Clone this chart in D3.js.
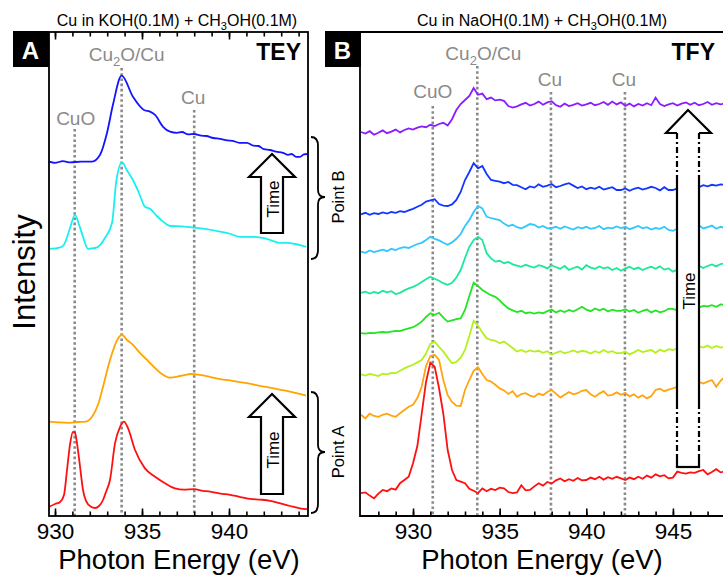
<!DOCTYPE html>
<html><head><meta charset="utf-8">
<script src="https://cdn.jsdelivr.net/npm/d3@7"></script>
<style>body{margin:0;background:#fff}svg{display:block;font-family:"Liberation Sans",Arial,sans-serif}</style>
</head><body><svg id="c" width="723" height="575"></svg>
<script>
// ---------- DATA ----------
// Panel A (TEY), [photon energy eV, intensity a.u.]
const teyBlue = [[929.66,88.6],[930.0,88.3],[930.45,88.7],[930.9,88.4],[931.5,88.6],[932.13,88.6],[932.59,90.3],[932.99,95.8],[933.33,102.8],[933.83,110.1],[934.48,104.8],[935.11,101.5],[935.46,101.1],[935.75,100.3],[936.21,97.3],[936.61,96.1],[937.0,95.8],[937.3,96.0],[937.65,95.4],[937.99,95.5],[938.4,95.1],[938.7,95.0],[939.1,94.5],[939.48,94.3],[939.9,93.9],[940.2,93.8],[940.6,93.3],[941.03,93.3],[941.4,92.6],[941.7,92.5],[942.0,91.7],[942.36,91.5],[942.7,91.1],[943.1,90.8],[943.4,90.3],[943.6,90.5],[943.85,89.8],[944.08,89.8],[944.3,90.4],[944.48,90.5]];
const teyCyan = [[929.66,66.8],[930.0,66.9],[930.4,67.3],[930.57,68.3],[930.85,71.8],[931.15,75.3],[931.4,72.6],[931.61,69.8],[931.9,66.8],[932.3,67.0],[932.6,67.8],[932.87,69.5],[933.28,73.3],[933.51,83.3],[933.85,88.4],[934.15,86.3],[934.48,84.0],[934.85,80.5],[935.17,77.3],[935.46,76.8],[935.85,75.0],[936.21,73.6],[936.61,72.5],[937.3,72.4],[937.99,72.1],[938.7,71.7],[939.48,71.1],[940.1,70.5],[940.63,69.8],[941.3,69.8],[942.07,69.4],[942.5,68.8],[942.93,68.3],[943.4,68.3],[943.79,68.0],[944.1,67.7],[944.43,67.3]];
const teyOrange = [[929.66,23.6],[930.2,23.4],[930.86,23.3],[931.3,23.5],[931.78,23.6],[932.13,24.8],[932.47,27.8],[932.76,32.3],[933.16,39.0],[933.62,44.4],[933.85,45.3],[934.14,44.0],[934.48,42.8],[934.89,40.7],[935.25,39.2],[935.63,37.5],[936.21,35.3],[936.61,34.6],[936.9,34.7],[937.18,35.0],[937.5,35.3],[937.76,35.5],[938.33,35.3],[938.9,34.8],[939.48,34.2],[940.2,33.8],[941.03,33.2],[941.7,32.6],[942.36,32.1],[942.9,31.6],[943.51,31.1],[944.0,30.6],[944.43,30.1]];
const teyRed = [[929.66,2.3],[930.0,3.0],[930.29,3.5],[930.52,5.3],[930.69,11.5],[930.86,17.8],[931.03,21.0],[931.15,20.8],[931.26,18.3],[931.44,12.3],[931.61,6.5],[931.78,3.8],[932.07,2.3],[932.3,2.0],[932.53,2.5],[932.76,4.0],[932.93,6.0],[933.16,9.0],[933.45,18.2],[933.74,22.3],[933.97,23.6],[934.2,21.9],[934.6,16.5],[935.17,11.9],[935.75,9.8],[936.32,8.2],[936.9,6.9],[937.4,6.6],[937.99,6.7],[938.5,6.3],[938.91,6.1],[939.5,5.6],[940.06,5.3],[940.6,4.8],[941.21,4.3],[941.8,4.1],[942.36,3.8],[942.9,3.2],[943.51,2.5],[944.08,1.9],[944.48,1.7]];

// Panel B (TFY) energy grid, eV
const tfyEnergy = [927,927.25,927.5,927.75,928,928.25,928.5,928.75,929,929.25,929.5,929.75,930,930.25,930.5,930.75,931,931.25,931.5,931.75,932,932.25,932.5,932.75,933,933.25,933.5,933.75,934,934.25,934.5,934.75,935,935.25,935.5,935.75,936,936.25,936.5,936.75,937,937.25,937.5,937.75,938,938.25,938.5,938.75,939,939.25,939.5,939.75,940,940.25,940.5,940.75,941,941.25,941.5,941.75,942,942.25,942.5,942.75,943,943.25,943.5,943.75,944,944.25,944.5,944.75,945,945.25,945.5,945.75,946,946.25,946.5,946.75,947,947.25,947.5,947.75,948];
const tfyViolet = [96.0,95.6,96.2,95.3,95.8,96.4,95.7,96.1,96.6,95.9, 96.5,96.9,96.6,97.1,97.4,97.2,97.8,97.5,98.0,98.3, 97.6,99.2,101.5,103.0,104.0,105.0,107.0,105.3,105.6,104.2, 104.6,103.9,104.1,103.8,102.5,102.1,102.4,102.9,103.3,102.6, 103.0,103.6,102.8,103.4,103.7,102.7,102.3,103.1,102.5,102.8, 103.2,102.6,102.9,103.3,102.7,103.0,103.5,102.8,103.6,102.9, 103.4,102.5,103.1,102.4,103.0,102.6,103.2,102.7,104.6,103.0, 102.5,102.9,103.2,102.6,103.1,103.4,102.8,103.3,102.7,103.0, 103.5,102.8,103.2,102.9,103.1];
const tfyBlue = [75.4,75.8,75.3,75.7,75.5,75.9,75.6,76.0,75.8,76.2, 76.0,76.4,76.8,77.3,77.8,78.6,78.9,79.2,78.0,77.6, 77.5,77.9,79.0,81.0,84.0,86.0,88.2,86.9,87.5,85.5, 84.0,83.8,83.6,83.2,83.5,82.8,82.7,82.2,81.7,82.4, 82.1,82.9,82.3,82.6,83.0,82.2,82.5,82.9,83.2,82.6, 82.0,82.4,81.7,82.1,81.8,82.3,81.6,81.9,82.2,81.5, 81.5,81.9,81.3,81.8,82.1,81.6,81.9,82.3,82.0,81.4, 82.2,81.5,81.5,81.9,82.2,82.0,82.4,82.5,82.2,82.7, 82.4,82.8,82.6,82.9,82.8];
const tfySky = [66.1,65.8,66.4,66.0,66.3,66.6,66.2,66.8,66.5,67.0, 67.2,67.0,67.5,68.0,68.3,69.0,69.8,69.3,68.9,68.3, 67.8,68.4,69.3,70.5,72.5,74.0,76.0,77.5,76.9,74.8, 74.5,74.2,74.0,73.1,72.5,72.8,72.2,71.9,72.4,73.0, 72.8,72.1,72.5,71.9,72.0,72.3,71.8,72.4,72.0,71.6, 72.2,71.9,72.3,71.8,72.0,72.5,71.7,72.1,71.9,72.4, 72.0,72.3,71.7,72.1,72.5,71.9,72.2,71.6,72.0,71.8, 72.3,71.5,71.3,71.8,72.1,72.4,72.8,72.3,72.7,71.9, 72.2,72.6,71.8,72.3,72.0];
const tfyMint = [55.8,56.1,55.6,56.0,55.7,56.3,55.9,56.2,55.5,55.8, 56.4,56.9,57.3,57.8,58.5,59.2,59.8,59.3,58.8,58.2, 57.8,58.3,59.6,61.5,64.5,67.3,69.0,69.8,69.0,65.7, 64.4,63.6,63.8,63.2,63.5,62.9,62.6,62.3,62.8,62.4, 62.1,62.7,62.4,61.9,62.7,62.2,61.8,62.5,61.5,62.0, 62.3,61.6,62.7,62.1,61.8,62.4,61.9,62.2,61.5,62.0, 61.3,61.9,62.3,61.7,62.1,61.5,62.0,62.3,61.8,62.4, 61.6,61.9,61.1,61.6,62.0,62.3,61.9,62.3,62.6,62.0, 62.5,62.9,62.4,63.0,63.2];
const tfyGreen = [45.7,45.6,45.8,45.7,45.9,46.0,45.9,46.1,46.3,46.2, 46.6,46.9,47.2,47.8,48.6,49.8,50.7,50.3,50.8,49.6, 48.6,48.9,49.2,49.4,51.5,55.0,58.3,57.5,56.5,55.8, 55.2,54.8,53.9,52.8,51.9,51.4,51.0,51.3,50.7,50.9, 50.6,50.9,50.7,51.2,51.6,50.9,51.4,51.0,51.5,51.1, 51.7,52.3,51.6,51.2,51.9,51.4,51.8,51.1,51.6,51.3, 51.3,51.7,51.1,51.5,50.8,51.3,51.6,50.9,51.4,50.9, 51.2,51.8,51.8,51.4,51.9,52.1,52.0,52.3,52.1,52.5, 52.4,52.7,52.3,52.9,52.8];
const tfyLime = [35.4,35.1,35.5,35.3,35.0,35.6,35.4,35.8,35.7,36.3, 36.9,37.4,37.8,38.4,39.0,40.6,43.0,43.6,42.3,41.1, 39.6,38.2,38.5,39.6,41.5,45.0,48.8,47.6,45.9,44.4, 44.0,43.8,43.2,43.6,42.8,42.0,41.1,41.5,41.0,41.4, 41.1,41.3,40.8,41.2,40.3,40.8,41.2,40.7,41.0,41.4, 40.9,41.3,41.1,40.6,41.2,40.8,41.5,40.9,41.2,40.7, 40.7,41.1,40.4,40.9,41.5,41.0,41.3,41.5,40.8,41.6, 41.1,41.7,41.5,41.9,41.6,42.2,42.0,42.8,42.4,42.1, 42.6,42.0,42.5,42.1,42.3];
const tfyOrange = [25.3,24.4,25.6,25.0,24.8,25.3,25.6,25.1,24.8,25.7, 26.5,27.3,27.8,29.5,32.3,37.5,40.0,40.3,39.0,34.0, 30.2,28.5,27.6,27.5,31.5,34.0,36.3,37.2,35.5,34.0, 33.6,32.8,31.9,31.4,30.5,31.2,29.8,30.5,30.7,30.1, 29.8,30.6,30.2,31.0,31.5,30.6,29.6,30.3,31.0,30.4, 30.7,31.3,31.5,30.4,29.8,30.6,31.2,30.1,30.3,30.9, 30.3,30.8,29.9,30.4,29.6,30.2,29.4,30.0,31.5,31.8, 31.2,31.6,31.9,32.3,32.6,32.9,33.0,33.2,33.5,33.1, 33.6,34.0,32.3,33.8,34.8];
const tfyRed = [5.7,5.9,5.1,4.4,5.6,6.5,6.2,6.9,6.6,8.2, 9.0,9.8,13.2,17.5,25.5,33.5,38.3,37.3,32.0,25.5, 16.5,11.5,9.0,8.6,8.2,6.8,6.3,5.7,6.9,6.2, 6.8,6.5,7.1,6.9,6.0,5.7,5.9,7.7,6.4,6.5, 7.4,8.2,7.6,8.5,8.1,8.9,9.4,8.7,9.2,8.8, 9.5,8.9,9.0,9.6,9.2,9.8,9.1,9.7,9.3,9.8, 9.4,9.0,9.6,9.2,9.8,9.3,10.1,9.6,10.4,9.9, 10.2,9.4,9.6,11.1,10.8,10.6,10.9,10.8,11.2,11.5, 10.4,11.0,11.7,10.9,11.1];

// reference energies (eV) and names
const refEnergyA = [931.13, 933.83, 938.0];
const refNameA = ["CuO", "Cu2O/Cu", "Cu"];
const refEnergyB = [931.14, 933.71, 937.96, 942.23];
const refNameB = ["CuO", "Cu2O/Cu", "Cu", "Cu"];

// ticks
const ticksMajorA = [930, 935, 940];
const ticksMinorA = [930,931,932,933,934,935,936,937,938,939,940,941,942,943,944];
const ticksMajorB = [930, 935, 940, 945];
const ticksMinorB = [928,929,930,931,932,933,934,935,936,937,938,939,940,941,942,943,944,945,946,947];

// ---------- LAYOUT ----------
const svg = d3.select("#c");
const yTop = 32, yBot = 516;
const y = d3.scaleLinear().domain([0, 121]).range([yBot, yTop]);
const xA = d3.scaleLinear().domain([929.655, 944.54]).range([49, 308]);
const xB = d3.scaleLinear().domain([926.94, 947.89]).range([360, 723]);
const grey = "#8a8a8a";

function refLines(xs, energies, names, tops, lys, dxs) {
  const g = svg.append("g");
  energies.forEach((e, i) => {
    g.append("line").attr("x1", xs(e)).attr("x2", xs(e)).attr("y1", tops[i]).attr("y2", yBot)
      .attr("stroke", grey).attr("stroke-width", 2.6).attr("stroke-dasharray", "2.6,2.6");
    const t = g.append("text").attr("x", xs(e) + dxs[i]).attr("y", lys[i])
      .attr("text-anchor", "middle").attr("fill", grey).attr("font-size", 19);
    if (names[i] === "Cu2O/Cu") {
      t.append("tspan").text("Cu");
      t.append("tspan").attr("dy", 5).attr("font-size", 13).text("2");
      t.append("tspan").attr("dy", -5).text("O/Cu");
    } else t.text(names[i]);
  });
}
refLines(xA, refEnergyA, refNameA, [129, 68, 110], [125, 61, 104], [1, 5, -1]);
refLines(xB, refEnergyB, refNameB, [106, 66, 92, 92], [98, 60, 86, 86], [0, 6, -1, -1]);

// curves A
const lineA = d3.line().x(d => xA(d[0])).y(d => y(d[1])).curve(d3.curveMonotoneX);
[[teyBlue, "#1414ff"], [teyCyan, "#18f0f0"], [teyOrange, "#ffa500"], [teyRed, "#ff1010"]].forEach(([d, c]) => {
  svg.append("path").attr("d", lineA(d)).attr("fill", "none").attr("stroke", c).attr("stroke-width", 1.8);
});

// curves B
const lineB = d3.line().x((d, i) => xB(tfyEnergy[i])).y(d => y(d));
[[tfyViolet, "#8a1cff"], [tfyBlue, "#1236ff"], [tfySky, "#2ec8ff"], [tfyMint, "#1ce89a"], [tfyGreen, "#22e622"],
 [tfyLime, "#b4f01e"], [tfyOrange, "#ffa50f"], [tfyRed, "#ff1010"]].forEach(([d, c]) => {
  svg.append("path").attr("d", lineB(d)).attr("fill", "none").attr("stroke", c).attr("stroke-width", 1.8);
});

// axes
function axes(xs, major, minor, top) {
  const gb = svg.append("g").attr("transform", `translate(0,${yBot})`);
  gb.call(d3.axisBottom(xs).tickValues(minor).tickSize(-4.5).tickFormat(""));
  const gm = svg.append("g").attr("transform", `translate(0,${yBot})`);
  gm.call(d3.axisBottom(xs).tickValues(major).tickSize(-7.5).tickPadding(7).tickFormat(d3.format("d")));
  [gb, gm].forEach(g => { g.select(".domain").remove(); g.selectAll("line").attr("stroke", "#000").attr("stroke-width", 1.6); });
  gm.selectAll("text").attr("font-size", 22.5).attr("font-family", "Liberation Sans, Arial, sans-serif").attr("fill", "#000");
  if (top) {
    const gt = svg.append("g").attr("transform", `translate(0,${yTop})`);
    gt.call(d3.axisTop(xs).tickValues(minor).tickSize(-4.5).tickFormat(""));
    const gt2 = svg.append("g").attr("transform", `translate(0,${yTop})`);
    gt2.call(d3.axisTop(xs).tickValues(major).tickSize(-7.5).tickFormat(""));
    [gt, gt2].forEach(g => { g.select(".domain").remove(); g.selectAll("line").attr("stroke", "#000").attr("stroke-width", 1.6); });
  }
}
axes(xA, ticksMajorA, ticksMinorA, true);
axes(xB, ticksMajorB, ticksMinorB, false);

// frames
svg.append("rect").attr("x", 49).attr("y", yTop).attr("width", 259).attr("height", yBot - yTop)
  .attr("fill", "none").attr("stroke", "#000").attr("stroke-width", 1.8);
svg.append("path").attr("d", `M730,${yTop}H360V${yBot}H730`).attr("fill", "none").attr("stroke", "#000").attr("stroke-width", 1.8);

// panel letters
[[13, "A"], [325, "B"]].forEach(([x0, L]) => {
  svg.append("rect").attr("x", x0).attr("y", 31).attr("width", 36).attr("height", 36).attr("fill", "#000");
  svg.append("text").attr("x", x0 + 17.5).attr("y", 59).attr("text-anchor", "middle").attr("fill", "#fff")
    .attr("font-weight", "bold").attr("font-size", 24).text(L);
});
svg.append("text").attr("x", 301).attr("y", 60).attr("text-anchor", "end").attr("font-weight", "bold").attr("font-size", 23).text("TEY");
svg.append("text").attr("x", 715).attr("y", 60).attr("text-anchor", "end").attr("font-weight", "bold").attr("font-size", 23).text("TFY");

// titles
function title(cx, base) {
  const t = svg.append("text").attr("x", cx).attr("y", 26).attr("text-anchor", "middle").attr("font-size", 16);
  t.append("tspan").text(base + " + CH");
  t.append("tspan").attr("dy", 4).attr("font-size", 11).text("3");
  t.append("tspan").attr("dy", -4).text("OH(0.1M)");
}
title(177, "Cu in KOH(0.1M)");
title(542, "Cu in NaOH(0.1M)");

// axis titles
svg.append("text").attr("transform", "translate(35,272) rotate(-90)").attr("text-anchor", "middle").attr("font-size", 31).text("Intensity");
svg.append("text").attr("x", 179).attr("y", 568.5).attr("text-anchor", "middle").attr("font-size", 27.5).text("Photon Energy (eV)");
svg.append("text").attr("x", 542).attr("y", 568.5).attr("text-anchor", "middle").attr("font-size", 27.5).text("Photon Energy (eV)");

// Time arrows panel A
function arrowA(tipY, headY, botY, textY) {
  const cx = 272;
  svg.append("path").attr("d", `M${cx},${tipY}L${cx + 23},${headY}H${cx + 11}V${botY}H${cx - 11}V${headY}H${cx - 23}Z`)
    .attr("fill", "#fff").attr("stroke", "#000").attr("stroke-width", 2.2).attr("stroke-linejoin", "miter");
  svg.append("text").attr("transform", `translate(${cx + 1},${textY}) rotate(-90)`).attr("text-anchor", "middle")
    .attr("dy", "0.35em").attr("font-size", 17).text("Time");
}
arrowA(154, 177, 233, 199);
arrowA(394, 417, 494, 450);

// braces
function brace(yT, yM, yB, label) {
  const x0 = 311;
  svg.append("path").attr("d", `M${x0},${yT}Q${x0 + 7},${yT} ${x0 + 7},${yT + 9}V${yM - 7}Q${x0 + 7},${yM} ${x0 + 14},${yM}Q${x0 + 7},${yM} ${x0 + 7},${yM + 7}V${yB - 9}Q${x0 + 7},${yB} ${x0},${yB}`)
    .attr("fill", "none").attr("stroke", "#000").attr("stroke-width", 1.8);
  svg.append("text").attr("transform", `translate(338,${yM}) rotate(-90)`).attr("text-anchor", "middle")
    .attr("dy", "0.35em").attr("font-size", 16.5).text(label);
}
brace(137, 197, 259, "Point B");
brace(392, 452, 513, "Point A");

// Time arrow panel B
(function () {
  const L = 677, R = 699, cx = 688;
  svg.append("rect").attr("x", L).attr("y", 133).attr("width", R - L).attr("height", 467 - 133).attr("fill", "#fff");
  svg.append("path").attr("d", `M${L},133H666L${cx},110L711,133H${R}`).attr("fill", "#fff").attr("stroke", "#000").attr("stroke-width", 2.2);
  const seg = (x, y1, y2, dash) => svg.append("line").attr("x1", x).attr("x2", x).attr("y1", y1).attr("y2", y2)
    .attr("stroke", "#000").attr("stroke-width", 2.2).attr("stroke-dasharray", dash);
  [L, R].forEach(x => {
    seg(x, 133, 175, "6,3,2,3");
    seg(x, 175, 403, null);
    seg(x, 403, 455, "6,3,2,3");
    seg(x, 455, 467, null);
  });
  svg.append("line").attr("x1", L - 1.1).attr("x2", R + 1.1).attr("y1", 467).attr("y2", 467).attr("stroke", "#000").attr("stroke-width", 2.2);
  svg.append("text").attr("transform", `translate(${cx + 1},291) rotate(-90)`).attr("text-anchor", "middle")
    .attr("dy", "0.35em").attr("font-size", 17).text("Time");
})();
</script></body></html>
